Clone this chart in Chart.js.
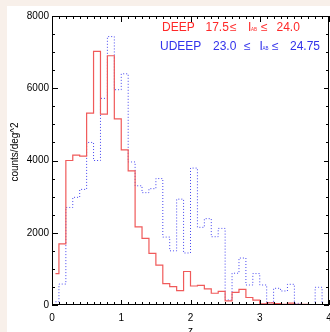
<!DOCTYPE html>
<html>
<head>
<meta charset="utf-8">
<script src="https://cdn.jsdelivr.net/npm/chart.js@4.4.1/dist/chart.umd.min.js"></script>
<style>
  body { margin: 0; background: rgb(248, 240, 234); }
  #panel { position: absolute; left: 7px; top: 6px; width: 323px; height: 326px; background: #fff; }
  #wrap { position: absolute; left: 0; top: 0; width: 330px; height: 332px; }
</style>
</head>
<body>
<div id="panel"></div>
<div id="wrap"><canvas id="myChart" width="330" height="332"></canvas></div>
<script>
// bin centres (z), bins of 0.1
const zBins = [0.05, 0.15, 0.25, 0.35, 0.45, 0.55, 0.65, 0.75, 0.85, 0.95,
  1.05, 1.15, 1.25, 1.35, 1.45, 1.55, 1.65, 1.75, 1.85, 1.95,
  2.05, 2.15, 2.25, 2.35, 2.45, 2.55, 2.65, 2.75, 2.85, 2.95,
  3.05, 3.15, 3.25, 3.35, 3.45, 3.55, 3.65, 3.75, 3.85, 3.95];

// DEEP 17.5 <= I_AB <= 24.0
const deepCounts = [870, 1690, 4000, 4150, 4120, 5310, 7020, 5285, 6900, 5155,
  4295, 3715, 2165, 1846, 1430, 1105, 590, 508, 400, 928,
  526, 545, 448, 325, 375, 115, 350, 430, 208, 135,
  30, 60, 40, 15, 50, 15, 15, 10, 5, 5];

// UDEEP 23.0 <= I_AB <= 24.75
const udeepCounts = [90, 580, 2700, 2980, 3200, 4500, 4000, 5720, 7430, 5960,
  6400, 3960, 3300, 3110, 3220, 3500, 1880, 1500, 2930, 1440,
  3790, 2150, 2390, 1890, 2120, 140, 880, 1300, 554, 870,
  554, 65, 462, 388, 573, 46, 10, 10, 490, 0];

const xTicks = [0, 1, 2, 3, 4];
const yTicks = [0, 2000, 4000, 6000, 8000];

const font = "'Liberation Sans', Arial, sans-serif";

// caja, ticks hacia dentro, titulos y leyenda
const decor = {
  id: "decor",
  afterDraw(chart) {
    const ctx = chart.ctx;
    const a = chart.chartArea;
    const xs = chart.scales.x;
    const ys = chart.scales.y;
    ctx.save();
    ctx.strokeStyle = "#000";
    ctx.lineWidth = 1;
    ctx.strokeRect(a.left + 0.5, a.top + 0.5, a.right - a.left - 1, a.bottom - a.top - 1);
    ctx.beginPath();
    for (let i = 0; i <= 40; i++) {
      const px = Math.round(xs.getPixelForValue(i / 10)) + 0.5;
      const major = i % 10 === 0;
      ctx.moveTo(px, a.bottom);
      ctx.lineTo(px, a.bottom - (major ? 5 : 3));
      ctx.moveTo(px, a.top);
      ctx.lineTo(px, a.top + (major ? 6 : 3));
    }
    for (let i = 0; i <= 16; i++) {
      const py = Math.round(ys.getPixelForValue(i * 500)) + 0.5;
      const major = i % 4 === 0;
      ctx.moveTo(a.left, py);
      ctx.lineTo(a.left + (major ? 6 : 3), py);
      ctx.moveTo(a.right, py);
      ctx.lineTo(a.right - (major ? 5 : 3), py);
    }
    ctx.stroke();

    // titulos de ejes
    ctx.fillStyle = "#000";
    ctx.font = "10px " + font;
    ctx.textAlign = "center";
    ctx.textBaseline = "top";
    ctx.fillText("z", (a.left + a.right) / 2, 326);
    ctx.save();
    ctx.translate(15, 152);
    ctx.rotate(-Math.PI / 2);
    ctx.textBaseline = "middle";
    ctx.fillText("counts/deg^2", 0, 0);
    ctx.restore();

    // leyenda
    const piece = (txt, x, y, size) => {
      ctx.font = size + "px " + font;
      ctx.fillText(txt, x, y);
    };
    ctx.textAlign = "left";
    ctx.textBaseline = "alphabetic";
    ctx.fillStyle = "rgb(255, 40, 40)";
    piece("DEEP", 162, 31, 12);
    piece("17.5", 205.5, 31, 12);
    piece("\u2264", 230, 31, 12);
    piece("I", 248, 31, 12);
    piece("AB", 251, 31, 4.5);
    piece("\u2264", 261, 31, 12);
    piece("24.0", 276.5, 31, 12);
    ctx.fillStyle = "rgb(50, 50, 235)";
    piece("UDEEP", 160, 50, 12);
    piece("23.0", 213, 50, 12);
    piece("\u2264", 244, 50, 12);
    piece("I", 259.5, 50, 12);
    piece("AB", 262.5, 50, 4.5);
    piece("\u2264", 272, 50, 12);
    piece("24.75", 290, 50, 12);
    ctx.restore();
  },
};

const toPoints = (ys) => zBins.map((z, i) => ({ x: z, y: ys[i] }));

const config = {
  type: "line",
  data: {
    datasets: [
      {
        label: "DEEP",
        data: toPoints(deepCounts),
        borderColor: "rgb(240, 90, 90)",
        borderWidth: 1.2,
        pointRadius: 0,
        stepped: "middle",
        fill: false,
      },
      {
        label: "UDEEP",
        data: toPoints(udeepCounts),
        borderColor: "rgb(70, 70, 240)",
        borderWidth: 1,
        borderDash: [1, 2],
        pointRadius: 0,
        stepped: "middle",
        fill: false,
      },
    ],
  },
  options: {
    responsive: false,
    animation: false,
    layout: { padding: { left: 0, right: 1, top: 16, bottom: 0 } },
    plugins: { legend: { display: false }, tooltip: { enabled: false } },
    scales: {
      x: {
        type: "linear",
        min: 0,
        max: 4,
        grid: { display: false, drawTicks: false },
        border: { display: false },
        afterBuildTicks: (s) => { s.ticks = xTicks.map((v) => ({ value: v })); },
        ticks: { color: "#000", font: { size: 10, family: font }, padding: 7, maxRotation: 0, callback: (v) => String(v) },
        afterFit: (s) => { s.height = 27; s.paddingLeft = 0; s.paddingRight = 0; },
      },
      y: {
        min: 0,
        max: 8000,
        grid: { display: false, drawTicks: false },
        border: { display: false },
        afterBuildTicks: (s) => { s.ticks = yTicks.map((v) => ({ value: v })); },
        ticks: { color: "#000", font: { size: 10, family: font }, padding: 3, callback: (v) => String(v) },
        afterFit: (s) => { s.width = 52; s.paddingTop = 0; s.paddingBottom = 0; },
      },
    },
  },
  plugins: [decor],
};

var myChart = new Chart(document.getElementById("myChart"), config);
</script>
</body>
</html>
